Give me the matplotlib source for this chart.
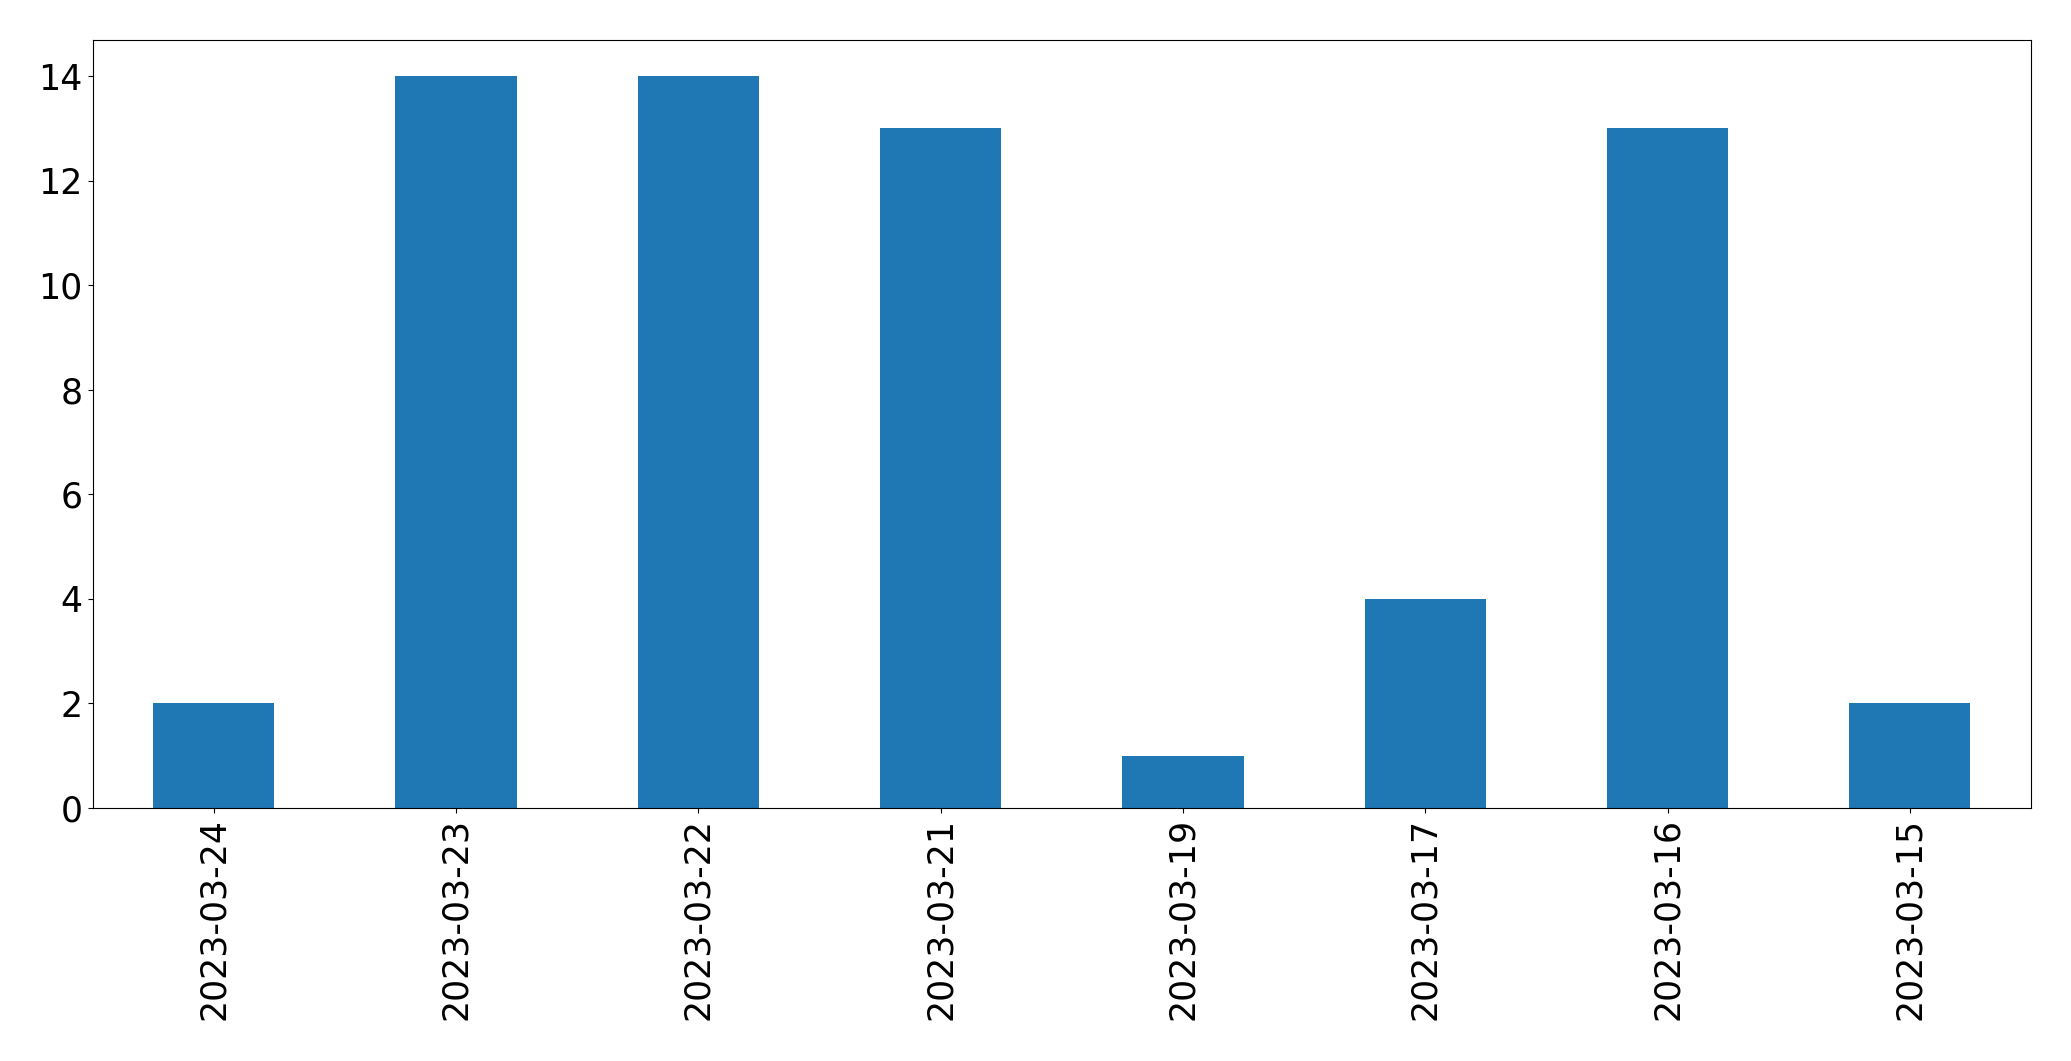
import matplotlib
matplotlib.use("Agg")
import matplotlib.pyplot as plt
import numpy as np

dates = ["2023-03-24", "2023-03-23", "2023-03-22", "2023-03-21",
         "2023-03-19", "2023-03-17", "2023-03-16", "2023-03-15"]
counts = [2, 14, 14, 13, 1, 4, 13, 2]

fig = plt.figure(figsize=(20.71, 10.61), dpi=100)
ax = fig.add_axes([0.0447, 0.2385, 0.936, 0.7242])

x = np.arange(len(dates))
ax.bar(x, counts, width=0.5, color="#1f77b4")
ax.set_xlim(-0.5, len(dates) - 0.5)
ax.set_ylim(0, max(counts) * 1.05)
ax.set_xticks(x)
ax.set_xticklabels(dates, rotation=90)
ax.tick_params(labelsize=25)

fig.savefig("out.png", dpi=100)
